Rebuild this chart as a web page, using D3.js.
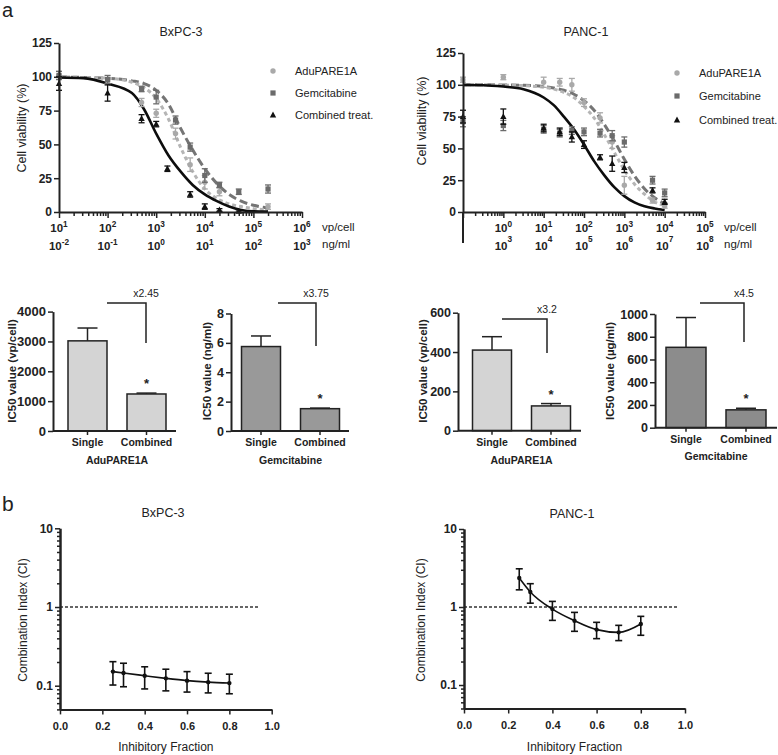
<!DOCTYPE html>
<html><head><meta charset="utf-8">
<script src="https://cdn.jsdelivr.net/npm/d3@7/dist/d3.min.js"></script>
<style>
html,body{margin:0;padding:0;background:#fff;}
svg{display:block;}
text{font-family:"Liberation Sans",Arial,Helvetica,sans-serif;fill:#222;}
</style></head><body>
<svg id="chart" width="778" height="755" viewBox="0 0 778 755"></svg>
<script>
// ================= DATA =================
const legendNames = ["AduPARE1A", "Gemcitabine", "Combined treat."];
const drYTicks = [0, 25, 50, 75, 100, 125];

// BxPC-3 dose response (dose in vp/cell)
const bxVpExp = [1, 2, 3, 4, 5, 6];
const bxNgExp = [-2, -1, 0, 1, 2, 3];
const bxAduDose = [10, 100, 500, 1000, 2500, 5000, 10000, 20000, 200000];
const bxAduMean = [101, 97, 81, 73, 58, 35, 22, 15, 4];
const bxAduErr  = [3, 2, 3, 3, 4, 5, 5, 3, 2];
const bxGemDose = [10, 100, 500, 1000, 2500, 5000, 10000, 20000, 50000, 200000];
const bxGemMean = [101, 98, 91, 85, 68, 48, 27, 20, 15, 17];
const bxGemErr  = [3, 3, 2, 5, 3, 3, 5, 2, 2, 3];
const bxCombDose = [10, 100, 500, 1000, 1700, 5000, 10000, 20000, 50000];
const bxCombMean = [95, 88, 69, 65, 32, 13, 4, 1.5, 0.5];
const bxCombErr  = [5, 6, 3, 2, 2, 2, 2, 1, 1];
const bxCurveLogDose = [1, 1.5, 2, 2.5, 2.75, 3, 3.25, 3.5, 3.75, 4, 4.25, 4.5, 4.75, 5, 5.3];
const bxAduCurve  = [100, 99.5, 99, 96, 92, 84, 69, 48, 30, 17, 10, 6, 4, 2.5, 1.5];
const bxGemCurve  = [100, 99.5, 99, 97, 95, 90, 80, 62, 46, 32, 21, 13, 8, 5, 3];
const bxCombCurve = [99.5, 99, 95, 88, 76, 58, 42, 30, 20, 13, 8, 4, 1.5, 0.5, 0.3];

// PANC-1 dose response (dose in vp/cell)
const panVpExp = [0, 1, 2, 3, 4, 5];
const panNgExp = [3, 4, 5, 6, 7, 8];
const panDose = [0.1, 1, 10, 25, 50, 100, 250, 500, 1000, 5000, 10000];
const panAduMean  = [104, 106, 102, 102, 100, 86, 74, 55, 21, 9, 5];
const panAduErr   = [2, 2, 4, 3, 5, 3, 4, 5, 7, 2, 2];
const panGemMean  = [71, 68, 65, 62, 64, 63, 62, 60, 55, 25, 15];
const panGemErr   = [4, 4, 3, 3, 3, 3, 3, 4, 4, 3, 3];
const panCombMean = [75, 75, 66, 63, 59, 53, 43, 38, 35, 17, 8];
const panCombErr  = [5, 6, 3, 3, 4, 3, 2, 6, 4, 2, 2];
const panCurveLogDose = [-1, -0.5, 0, 0.5, 1, 1.25, 1.5, 1.75, 2, 2.25, 2.5, 2.75, 3, 3.25, 3.5, 3.75, 4];
const panAduCurve  = [100, 100, 99.8, 99.4, 98, 96.6, 94, 90, 83, 74, 61, 47, 33, 22, 14, 8, 5];
const panGemCurve  = [100, 100, 99.9, 99.6, 98.6, 97.5, 95.7, 92.6, 87.6, 80, 69, 56, 41.5, 28.5, 18.3, 11.2, 6.6];
const panCombCurve = [99.8, 99.7, 98.6, 96.5, 90, 84, 75, 65, 53, 40, 29, 19.5, 12.5, 7.5, 4.5, 2.8, 1.7];

// IC50 bar charts
const barCats = ["Single", "Combined"];
const bxAduIC50 = [3020, 1240],  bxAduIC50Err = [430, 30];
const bxGemIC50 = [5.75, 1.52],  bxGemIC50Err = [0.72, 0.04];
const panAduIC50 = [410, 126],   panAduIC50Err = [68, 12];
const panGemIC50 = [707, 157],   panGemIC50Err = [262, 14];
const foldLabels = ["x2.45", "x3.75", "x3.2", "x4.5"];
const bxAduTicks = [0, 1000, 2000, 3000, 4000];
const bxGemTicks = [0, 2, 4, 6, 8];
const panAduTicks = [0, 200, 400, 600];
const panGemTicks = [0, 200, 400, 600, 800, 1000];

// Combination index
const ciFraction = [0.25, 0.3, 0.4, 0.5, 0.6, 0.7, 0.8];
const bxCI     = [0.151, 0.145, 0.134, 0.124, 0.116, 0.111, 0.108];
const bxCIHigh = [0.202, 0.193, 0.174, 0.162, 0.151, 0.144, 0.140];
const bxCILow  = [0.102, 0.097, 0.091, 0.086, 0.083, 0.081, 0.079];
const panCI     = [2.35, 1.56, 0.94, 0.668, 0.513, 0.473, 0.606];
const panCIHigh = [3.09, 1.99, 1.18, 0.853, 0.636, 0.582, 0.759];
const panCILow  = [1.66, 1.12, 0.674, 0.488, 0.393, 0.371, 0.434];
const ciXTicks = [0, 0.2, 0.4, 0.6, 0.8, 1.0];
const ciYTicks = [0.1, 1, 10];

// ================= DRAWING =================
const svg = d3.select("#chart");
const INK = "#222";
const COL_ADU = "#a9a9a9", COL_GEM = "#6b6b6b", COL_COMB = "#111";

function txt(g, x, y, s, o = {}) {
  const t = g.append("text").attr("x", x).attr("y", y).text(s)
    .attr("font-size", o.size || 12)
    .attr("font-weight", o.bold ? "bold" : "normal")
    .attr("text-anchor", o.anchor || "start");
  if (o.rotate) t.attr("transform", `rotate(-90,${x},${y})`);
  return t;
}
function styleAxis(ag, size, bold = true) {
  ag.select(".domain").attr("stroke", INK).attr("stroke-width", 2);
  ag.selectAll(".tick line").attr("stroke", INK).attr("stroke-width", 1.5);
  ag.selectAll(".tick text").attr("font-size", size).attr("font-weight", bold ? "bold" : "normal")
    .attr("fill", INK).attr("font-family", '"Liberation Sans",Arial,sans-serif');
}
function marker(g, type, cx, cy, color) {
  if (type === "circle") g.append("circle").attr("cx", cx).attr("cy", cy).attr("r", 2.7).attr("fill", color);
  else if (type === "square") g.append("rect").attr("x", cx - 2.6).attr("y", cy - 2.6).attr("width", 5.2).attr("height", 5.2).attr("fill", color);
  else g.append("path").attr("d", `M${cx},${cy - 3.4}L${cx + 3.2},${cy + 2.4}L${cx - 3.2},${cy + 2.4}Z`).attr("fill", color);
}
function supLabel(g, x, y, base, exp, size, sup) {
  const t = g.append("text").attr("x", x).attr("y", y).attr("text-anchor", "middle")
    .attr("font-size", size).attr("font-weight", "bold");
  t.append("tspan").text(base);
  t.append("tspan").text(exp).attr("font-size", size * 0.72).attr("dy", -sup);
}

// ---------- dose response ----------
function drawDR(c) {
  const g = svg.append("g");
  const x = d3.scaleLog().domain(c.xDomain).range(c.xRange);
  const y = d3.scaleLinear().domain([0, 125]).range(c.yRange);
  const line = d3.line().x(d => x(d[0])).y(d => y(d[1])).curve(d3.curveMonotoneX);
  const styles = [
    { color: "#b5b5b5", width: 3, dash: "4,3", type: "circle", pcol: COL_ADU },
    { color: "#757575", width: 3, dash: "8,4", type: "square", pcol: COL_GEM },
    { color: "#0d0d0d", width: 2.6, dash: null, type: "tri", pcol: COL_COMB }
  ];
  [1, 0, 2].forEach(i => {
    const s = c.series[i], st = styles[i];
    const pts = c.curveLog.map((l, k) => [Math.pow(10, l), s.curve[k]]);
    g.append("path").attr("d", line(pts)).attr("fill", "none")
      .attr("stroke", st.color).attr("stroke-width", st.width)
      .attr("stroke-dasharray", st.dash);
  });
  [0, 1, 2].forEach(i => {
    const s = c.series[i], st = styles[i];
    s.dose.forEach((d, k) => {
      const cx = x(d), m = s.mean[k], e = s.err[k];
      const y1 = y(m + e), y2 = y(Math.max(0, m - e));
      g.append("line").attr("x1", cx).attr("x2", cx).attr("y1", y1).attr("y2", y2).attr("stroke", st.pcol).attr("stroke-width", 1.3);
      [y1, y2].forEach(yy => g.append("line").attr("x1", cx - 3).attr("x2", cx + 3).attr("y1", yy).attr("y2", yy).attr("stroke", st.pcol).attr("stroke-width", 1.3));
      marker(g, st.type, cx, y(m), st.pcol);
    });
  });
  const ya = g.append("g").attr("transform", `translate(${c.xRange[0]},0)`)
    .call(d3.axisLeft(y).tickValues(drYTicks).tickSize(5).tickSizeOuter(0).tickPadding(2));
  styleAxis(ya, 12);
  if (c.yExtend) g.append("line").attr("x1", c.xRange[0]).attr("x2", c.xRange[0])
    .attr("y1", c.yRange[0]).attr("y2", c.yRange[0] + c.yExtend).attr("stroke", INK).attr("stroke-width", 2);
  const lo = Math.round(Math.log10(c.xDomain[0])), hi = Math.round(Math.log10(c.xDomain[1]));
  const major = [], minor = [];
  for (let e = lo; e <= hi; e++) { major.push(Math.pow(10, e)); if (e < hi) for (let k = 2; k < 10; k++) minor.push(k * Math.pow(10, e)); }
  const xa1 = g.append("g").attr("transform", `translate(0,${c.yRange[0]})`)
    .call(d3.axisBottom(x).tickValues(major).tickSize(6).tickSizeOuter(0).tickFormat(""));
  styleAxis(xa1, 11);
  const xa2 = g.append("g").attr("transform", `translate(0,${c.yRange[0]})`)
    .call(d3.axisBottom(x).tickValues(minor).tickSize(4).tickSizeOuter(0).tickFormat(""));
  styleAxis(xa2, 11);
  xa2.select(".domain").remove();
  c.vpExp.forEach((e, i) => {
    const px = x(Math.pow(10, e));
    supLabel(g, px, c.vpY, "10", String(e), 11.5, 5);
    supLabel(g, px, c.ngY, "10", String(c.ngExp[i]), 11.5, c.ngSup);
  });
  txt(g, c.unitX, c.vpY - 1, "vp/cell", { size: 11.5 });
  txt(g, c.unitX, c.ngY - 2, "ng/ml", { size: 11.5 });
  txt(g, c.titleX, 36, c.title, { size: 12.5, anchor: "middle" });
  txt(g, c.yLabX, c.yLabY, "Cell viability (%)", { size: 12.5, anchor: "middle", rotate: true });
  legendNames.forEach((n, i) => {
    const ly = c.legY[i];
    marker(g, styles[i].type, c.legX, ly, styles[i].pcol);
    txt(g, c.legX + 22, ly + 4, n, { size: 11 });
  });
}

drawDR({
  xDomain: [1e1, 1e6], xRange: [59, 302], yRange: [212, 43],
  vpExp: bxVpExp, ngExp: bxNgExp, vpY: 232, ngY: 250, ngSup: 5, unitX: 322,
  title: "BxPC-3", titleX: 181, yLabX: 26, yLabY: 128,
  legX: 273, legY: [71, 93, 115],
  curveLog: bxCurveLogDose,
  series: [
    { dose: bxAduDose, mean: bxAduMean, err: bxAduErr, curve: bxAduCurve },
    { dose: bxGemDose, mean: bxGemMean, err: bxGemErr, curve: bxGemCurve },
    { dose: bxCombDose, mean: bxCombMean, err: bxCombErr, curve: bxCombCurve }
  ]
});
drawDR({
  xDomain: [1e-1, 1e5], xRange: [463, 705], yRange: [212, 53], yExtend: 31,
  vpExp: panVpExp, ngExp: panNgExp, vpY: 232, ngY: 250, ngSup: 8, unitX: 724,
  title: "PANC-1", titleX: 586, yLabX: 426, yLabY: 121,
  legX: 677, legY: [73, 96, 120],
  curveLog: panCurveLogDose,
  series: [
    { dose: panDose, mean: panAduMean, err: panAduErr, curve: panAduCurve },
    { dose: panDose, mean: panGemMean, err: panGemErr, curve: panGemCurve },
    { dose: panDose, mean: panCombMean, err: panCombErr, curve: panCombCurve }
  ]
});

// ---------- IC50 bars ----------
function drawBars(c) {
  const g = svg.append("g");
  const x = d3.scalePoint().domain(barCats).range(c.centers);
  const y = d3.scaleLinear().domain([0, c.ticks[c.ticks.length - 1]]).range(c.yRange);
  const bw = c.bw;
  barCats.forEach((cat, i) => {
    const cx = x(cat), v = c.values[i], e = c.errs[i];
    g.append("line").attr("x1", cx).attr("x2", cx).attr("y1", y(v)).attr("y2", y(v + e)).attr("stroke", INK).attr("stroke-width", 1.5);
    g.append("line").attr("x1", cx - 10).attr("x2", cx + 10).attr("y1", y(v + e)).attr("y2", y(v + e)).attr("stroke", INK).attr("stroke-width", 1.5);
    g.append("rect").attr("x", cx - bw / 2).attr("y", y(v)).attr("width", bw).attr("height", y(0) - y(v))
      .attr("fill", c.fill).attr("stroke", INK).attr("stroke-width", 1.5);
  });
  const cc = x("Combined");
  txt(g, cc, y(c.values[1] + c.errs[1]) - 5, "*", { size: 13, bold: true, anchor: "middle" });
  const b = c.bracket;
  g.append("path").attr("d", `M${b.x1},${b.y}H${b.x2}V${b.yb}`).attr("fill", "none").attr("stroke", INK).attr("stroke-width", 1.5);
  txt(g, b.x2, b.y - 6, c.fold, { size: 10.5, anchor: "middle" });
  const ya = g.append("g").attr("transform", `translate(${c.xAxis[0]},0)`)
    .call(d3.axisLeft(y).tickValues(c.ticks).tickFormat(d3.format("d")).tickSize(5).tickSizeOuter(0).tickPadding(2));
  styleAxis(ya, c.tickSize || 12.5);
  g.append("line").attr("x1", c.xAxis[0]).attr("x2", c.xAxis[1]).attr("y1", y(0)).attr("y2", y(0)).attr("stroke", INK).attr("stroke-width", 2);
  barCats.forEach(cat => {
    g.append("line").attr("x1", x(cat)).attr("x2", x(cat)).attr("y1", y(0)).attr("y2", y(0) + 4).attr("stroke", INK).attr("stroke-width", 1.5);
    txt(g, x(cat), c.catY, cat, { size: 10.5, bold: true, anchor: "middle" });
  });
  txt(g, (c.centers[0] + c.centers[1]) / 2, c.grpY, c.group, { size: 10.5, bold: true, anchor: "middle" });
  txt(g, c.yLab[0], 371, c.yLabel, { size: 11.5, bold: true, anchor: "middle", rotate: true });
}

drawBars({ values: bxAduIC50, errs: bxAduIC50Err, ticks: bxAduTicks, yRange: [431, 311.6],
  centers: [87.5, 146.5], bw: 39, xAxis: [53, 176], fill: "#d4d4d4", tickSize: 13,
  bracket: { x1: 107, x2: 146, y: 303, yb: 343 }, fold: foldLabels[0],
  catY: 446, grpY: 464, group: "AduPARE1A", yLabel: "IC50 value (vp/cell)", yLab: [16] });
drawBars({ values: bxGemIC50, errs: bxGemIC50Err, ticks: bxGemTicks, yRange: [431, 313.5],
  centers: [261, 320], bw: 39, xAxis: [231, 349], fill: "#999999",
  bracket: { x1: 278, x2: 316, y: 303, yb: 346 }, fold: foldLabels[1],
  catY: 446, grpY: 464, group: "Gemcitabine", yLabel: "IC50 value (ng/ml)", yLab: [211] });
drawBars({ values: panAduIC50, errs: panAduIC50Err, ticks: panAduTicks, yRange: [430.7, 312.7],
  centers: [492, 551], bw: 39, xAxis: [458, 581], fill: "#d4d4d4",
  bracket: { x1: 502, x2: 547, y: 319, yb: 353 }, fold: foldLabels[2],
  catY: 446, grpY: 464, group: "AduPARE1A", yLabel: "IC50 value (vp/cell)", yLab: [427] });
drawBars({ values: panGemIC50, errs: panGemIC50Err, ticks: panGemTicks, yRange: [427.7, 314],
  centers: [686, 746], bw: 40, xAxis: [655, 777], fill: "#8c8c8c",
  bracket: { x1: 700, x2: 744, y: 303, yb: 342 }, fold: foldLabels[3],
  catY: 443, grpY: 460, group: "Gemcitabine", yLabel: "IC50 value (\u00b5g/ml)", yLab: [614] });

// ---------- combination index ----------
function drawCI(c) {
  const g = svg.append("g");
  const x = d3.scaleLinear().domain([0, 1]).range(c.xRange);
  const y = d3.scaleLog().domain([0.05, 10]).range(c.yRange);
  g.append("line").attr("x1", x(0)).attr("x2", x(c.refEnd)).attr("y1", y(1)).attr("y2", y(1))
    .attr("stroke", "#333").attr("stroke-width", 1.5).attr("stroke-dasharray", "3,2");
  const xa = g.append("g").attr("transform", `translate(0,${c.yRange[0]})`)
    .call(d3.axisBottom(x).tickValues(ciXTicks).tickFormat(d3.format(".1f")).tickSize(5).tickSizeOuter(0).tickPadding(8));
  styleAxis(xa, 11);
  const minor = [];
  [0.01, 0.1, 1].forEach(d => { for (let k = 2; k < 10; k++) { const v = k * d; if (v >= 0.05 && v <= 10) minor.push(v); } });
  const ya2 = g.append("g").attr("transform", `translate(${c.xRange[0]},0)`)
    .call(d3.axisLeft(y).tickValues(minor).tickSize(3).tickSizeOuter(0).tickFormat(""));
  styleAxis(ya2, 11);
  const ya = g.append("g").attr("transform", `translate(${c.xRange[0]},0)`)
    .call(d3.axisLeft(y).tickValues(ciYTicks).tickFormat(d => String(d)).tickSize(5).tickSizeOuter(0).tickPadding(2));
  styleAxis(ya, 12);
  const line = d3.line().x((d, i) => x(ciFraction[i])).y(d => y(d)).curve(d3.curveMonotoneX);
  g.append("path").attr("d", line(c.ci)).attr("fill", "none").attr("stroke", "#111").attr("stroke-width", 1.6);
  ciFraction.forEach((f, i) => {
    const cx = x(f), yh = y(c.high[i]), yl = y(c.low[i]);
    g.append("line").attr("x1", cx).attr("x2", cx).attr("y1", yh).attr("y2", yl).attr("stroke", "#111").attr("stroke-width", 1.6);
    [yh, yl].forEach(yy => g.append("line").attr("x1", cx - 3.5).attr("x2", cx + 3.5).attr("y1", yy).attr("y2", yy).attr("stroke", "#111").attr("stroke-width", 1.6));
    g.append("circle").attr("cx", cx).attr("cy", y(c.ci[i])).attr("r", 2.2).attr("fill", "#111");
  });
  txt(g, c.titleX, c.titleY, c.title, { size: 12.5, anchor: "middle" });
  txt(g, (c.xRange[0] + c.xRange[1]) / 2, 751, "Inhibitory Fraction", { size: 12, anchor: "middle" });
  txt(g, c.yLabX, 620, "Combination Index (CI)", { size: 12, anchor: "middle", rotate: true });
}

drawCI({ xRange: [60, 271.7], yRange: [709.4, 528.3], refEnd: 0.94, ci: bxCI, high: bxCIHigh, low: bxCILow,
  title: "BxPC-3", titleX: 163, titleY: 517, yLabX: 27 });
drawCI({ xRange: [464, 685], yRange: [708.5, 529], refEnd: 0.97, ci: panCI, high: panCIHigh, low: panCILow,
  title: "PANC-1", titleX: 572, titleY: 518, yLabX: 425 });

txt(svg, 2, 17, "a", { size: 20 });
txt(svg, 2, 511, "b", { size: 21 });
</script>
</body></html>
